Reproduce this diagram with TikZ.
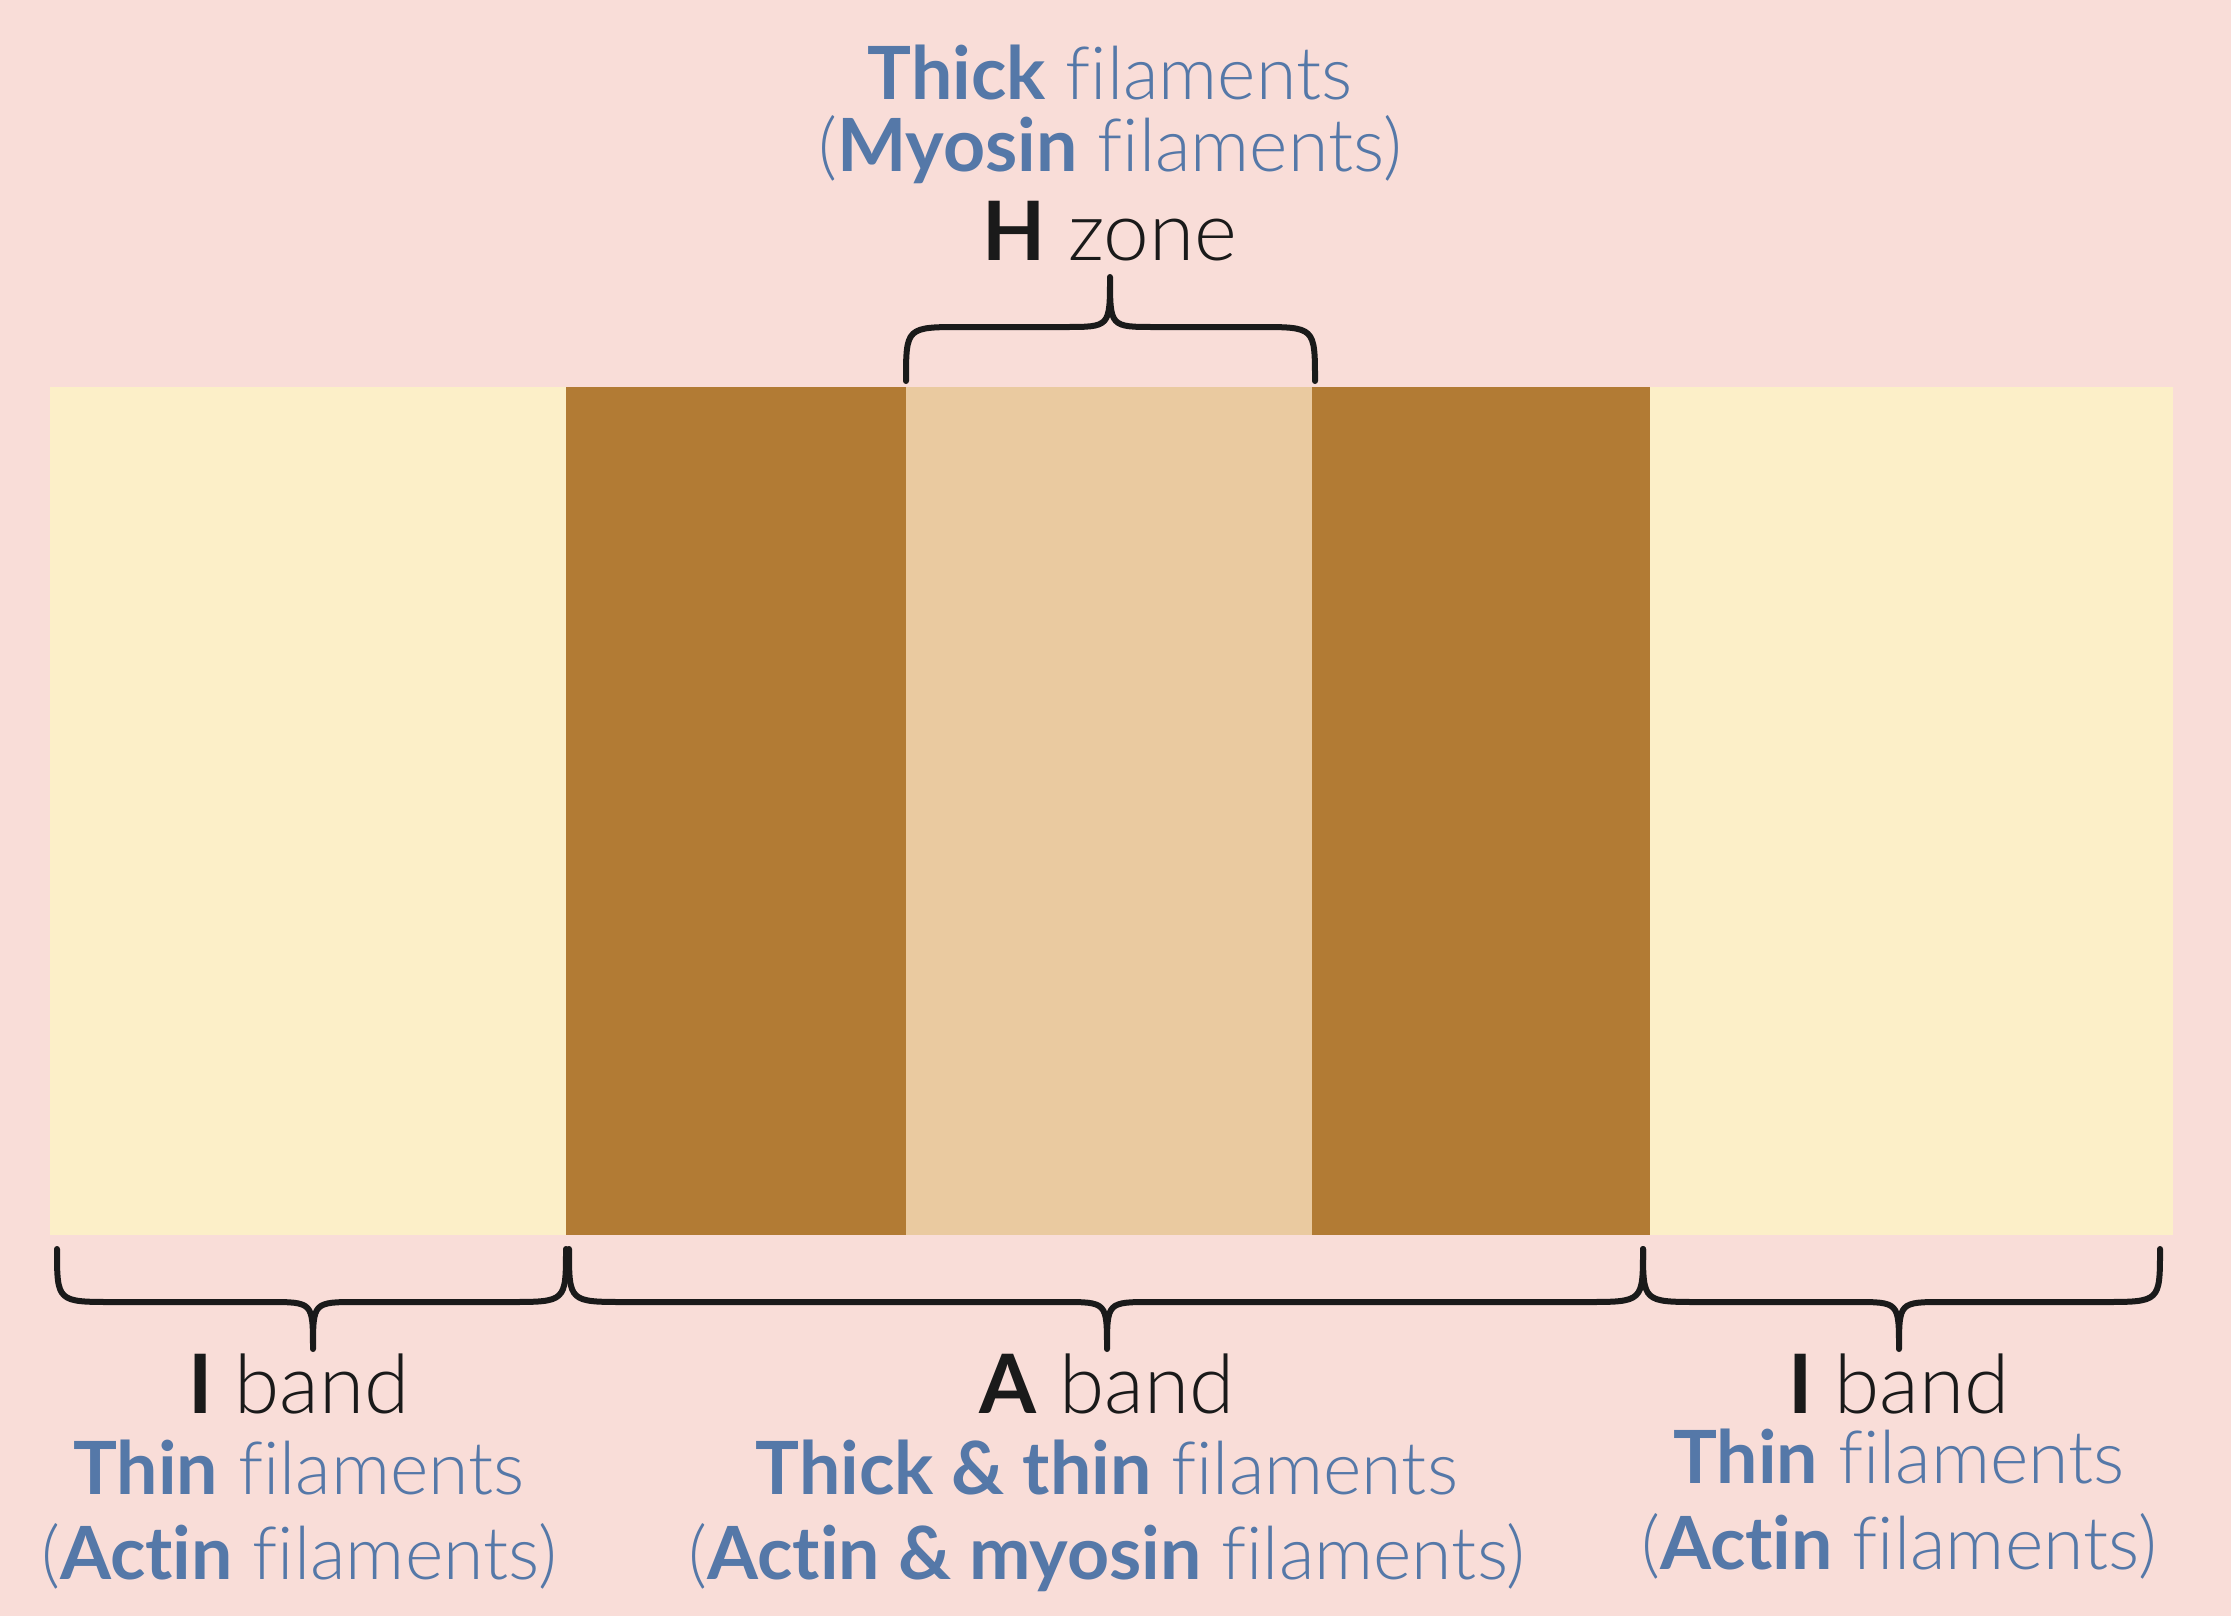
\documentclass[tikz,border=0pt]{standalone}
\usepackage{fontspec}
\setmainfont{Lato}[UprightFont=* Light, BoldFont=* Bold, Ligatures=NoCommon]
\definecolor{bgpink}{HTML}{F9DDD8}
\definecolor{ibandc}{HTML}{FCEFC8}
\definecolor{darkc}{HTML}{B27B34}
\definecolor{hzonec}{HTML}{EACAA0}
\definecolor{bluetxt}{HTML}{5578A8}
\definecolor{blacktxt}{HTML}{1A1A1A}
\tikzset{
  bracepath/.style={draw=blacktxt,line width=3pt,line cap=round,line join=round},
  labeltxt/.style={anchor=base,inner sep=0pt,text=blacktxt,font=\fontsize{41}{41}\selectfont},
  filtxt/.style={anchor=base,inner sep=0pt,text=bluetxt,font=\fontsize{36.7}{36.7}\selectfont}
}
\newcommand{\mybrace}[6]{%
  % #1 x0, #2 x1, #3 tip x, #4 end y, #5 mid y, #6 tip y
  \draw[bracepath] (#1,#4) .. controls (#1,#5) .. ({#1+57},#5) -- ({#3-45},#5)
     .. controls (#3,#5) .. (#3,#6)
     .. controls (#3,#5) .. ({#3+45},#5) -- ({#2-57},#5)
     .. controls (#2,#5) .. (#2,#4);}
\begin{document}
\begin{tikzpicture}[x=0.5pt,y=-0.5pt]
\fill[bgpink] (0,0) rectangle (2231,1616);
\useasboundingbox (0,0) rectangle (2231,1616);
% bands
\fill[ibandc] (50,387) rectangle (566,1235);
\fill[darkc] (566,387) rectangle (906,1235);
\fill[hzonec] (906,387) rectangle (1312,1235);
\fill[darkc] (1312,387) rectangle (1650,1235);
\fill[ibandc] (1650,387) rectangle (2173,1235);
% braces
\mybrace{906}{1315}{1110}{381}{327}{277}
\mybrace{57}{566}{313}{1249}{1302}{1349}
\mybrace{569}{1643}{1107}{1249}{1302}{1349}
\mybrace{1643}{2160}{1899}{1249}{1302}{1349}
% top texts
\node[filtxt] (thickt) at (1110,100) {\textbf{Thick} filaments};
\node[filtxt] (myosint) at (1110,171) {(\textbf{Myosin} filaments)};
\node[labeltxt] (hzone) at (1110,260) {\textbf{H} zone};
% left
\node[labeltxt] (iband1) at (299,1413) {\textbf{I} band};
\node[filtxt] (thin1) at (299,1494) {\textbf{Thin} filaments};
\node[filtxt] (actin1) at (299,1579) {(\textbf{Actin} filaments)};
% middle
\node[labeltxt] (aband) at (1107,1413) {\textbf{A} band};
\node[filtxt] (thickthin) at (1107,1494) {\textbf{Thick \& thin} filaments};
\node[filtxt] (actmyo) at (1107,1579) {(\textbf{Actin \& myosin} filaments)};
% right
\node[labeltxt] (iband2) at (1899,1413) {\textbf{I} band};
\node[filtxt] (thin2) at (1899,1483) {\textbf{Thin} filaments};
\node[filtxt] (actin2) at (1899,1569) {(\textbf{Actin} filaments)};
\end{tikzpicture}
\end{document}
